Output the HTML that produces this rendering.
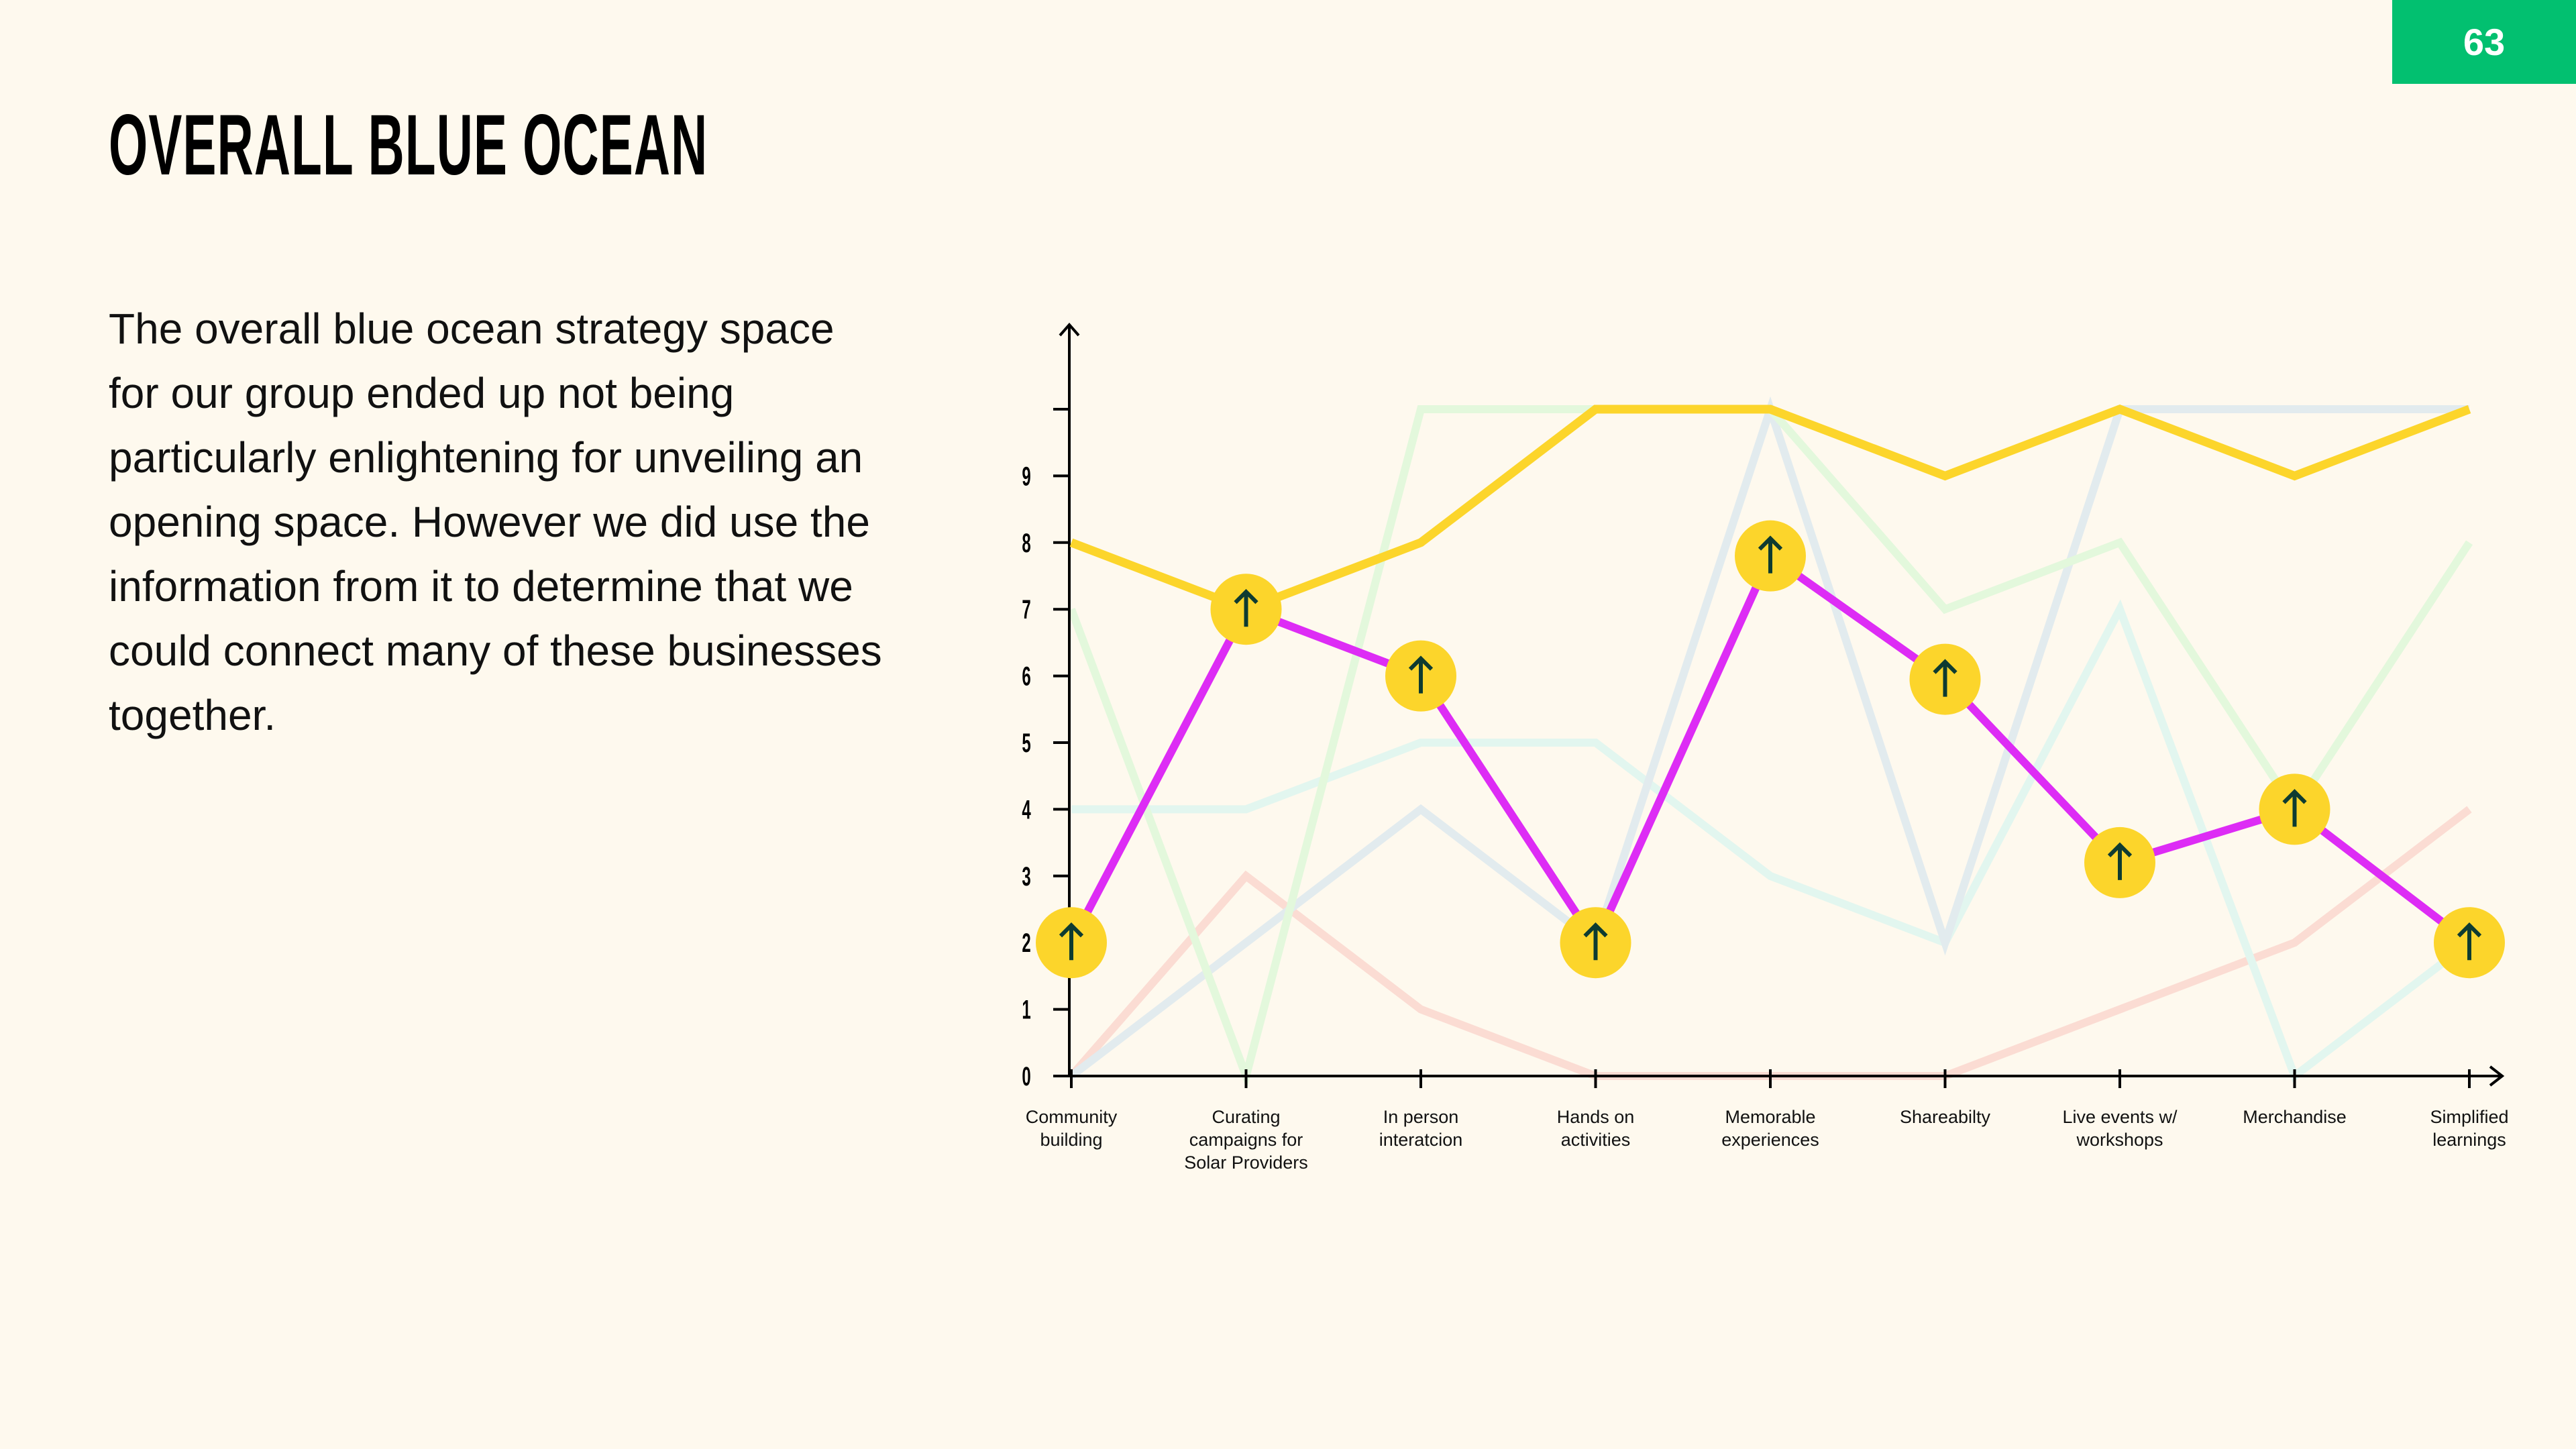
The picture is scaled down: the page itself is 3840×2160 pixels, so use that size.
<!DOCTYPE html>
<html><head><meta charset="utf-8"><style>
html,body{margin:0;padding:0;background:#fef9ee;}
#root{position:relative;width:3840px;height:2160px;overflow:hidden;background:#fef9ee;font-family:"Liberation Sans",sans-serif;}
.badge{position:absolute;left:3566px;top:0;width:274px;height:125px;background:#02c070;color:#fff;font-weight:bold;font-size:56px;display:flex;align-items:center;justify-content:center;}
.title{position:absolute;left:162px;top:143px;font-size:128px;font-weight:bold;color:#000;transform:scaleX(0.585);transform-origin:left top;white-space:nowrap;letter-spacing:2px;}
.para{position:absolute;left:162px;top:442px;font-size:64px;line-height:96px;color:#111;white-space:pre;}
svg{position:absolute;left:0;top:0;}
</style></head><body>
<div id="root">
<div class="badge">63</div>
<div class="title">OVERALL BLUE OCEAN</div>
<div class="para">The overall blue ocean strategy space
for our group ended up not being
particularly enlightening for unveiling an
opening space. However we did use the
information from it to determine that we
could connect many of these businesses
together.</div>
<svg id="chart" width="3840" height="2160"></svg>
</div>
<script>
const categories = ["Community\nbuilding","Curating\ncampaigns for\nSolar Providers","In person\ninteratcion","Hands on\nactivities","Memorable\nexperiences","Shareabilty","Live events w/\nworkshops","Merchandise","Simplified\nlearnings"];
const yTicks = [0,1,2,3,4,5,6,7,8,9];
const seriesGreen = [7,0,10,10,10,7,8,4,8];
const seriesGray = [0,2,4,2,10,2,10,10,10];
const seriesCyan = [4,4,5,5,3,2,7,0,2];
const seriesPink = [0,3,1,0,0,0,1,2,4];
const seriesYellow = [8,7,8,10,10,9,10,9,10];
const seriesMagenta = [2,7,6,2,7.8,5.95,3.2,4,2];

const NS="http://www.w3.org/2000/svg";
const svg=document.getElementById('chart');
const X0=1597,X1=3681,Y0=1604,YSTEP=99.4;
function x(i){return X0+(X1-X0)*i/(categories.length-1);}
function y(v){return Y0-v*YSTEP;}
function mk(tag,attrs){const e=document.createElementNS(NS,tag);for(const k in attrs)e.setAttribute(k,attrs[k]);svg.appendChild(e);return e;}

function line(data,color,w,name){
  const pts=data.map((v,i)=>x(i)+','+y(v)).join(' ');
  const p=mk('polyline',{points:pts,fill:'none',stroke:color,'stroke-width':w,'stroke-linejoin':'miter'});
  
  
}
line(seriesPink,'#fbdcd3',12,'series-pink-line');
line(seriesCyan,'#e2f6ef',12,'series-cyan-line');
line(seriesGray,'#e2ebee',12,'series-gray-line');
line(seriesGreen,'#e3f8dc',12,'series-green-line');

const ya=mk('line',{x1:1594,y1:Y0,x2:1594,y2:486,stroke:'#000','stroke-width':4});


mk('polyline',{points:'1580,500 1594,484 1608,500',fill:'none',stroke:'#000','stroke-width':4});
const xa=mk('line',{x1:1570,y1:Y0,x2:3728,y2:Y0,stroke:'#000','stroke-width':4});


mk('polyline',{points:'3712,1590 3730,1604 3712,1618',fill:'none',stroke:'#000','stroke-width':4});
[...yTicks,10].forEach(v=>{
  mk('line',{x1:1570,y1:y(v),x2:1594,y2:y(v),stroke:'#000','stroke-width':4});
});
yTicks.forEach(v=>{
  const t=mk('text',{x:1530,y:y(v)+14,'font-size':40,'font-weight':'bold','text-anchor':'middle','font-family':'Liberation Sans, sans-serif',transform:'translate(1530 0) scale(0.6 1) translate(-1530 0)'});
  t.textContent=v;
  
  
});
categories.forEach((c,i)=>{
  mk('line',{x1:x(i),y1:Y0-10,x2:x(i),y2:1622,stroke:'#000','stroke-width':4});
  const t=mk('text',{x:x(i),y:1674,'font-size':27,'text-anchor':'middle','font-family':'Liberation Sans, sans-serif',fill:'#111'});
  c.split('\n').forEach((s,k)=>{const ts=document.createElementNS(NS,'tspan');ts.setAttribute('x',x(i));ts.setAttribute('dy',k?34:0);ts.textContent=s;t.appendChild(ts);});
  
  
});

line(seriesYellow,'#fcd52b',13,'series-yellow-line');
line(seriesMagenta,'#dd2cf5',12,'series-magenta-line');
seriesMagenta.forEach((v,i)=>{
  const g=document.createElementNS(NS,'g');svg.appendChild(g);
  
  
  const cx=x(i),cy=y(v);
  const c=document.createElementNS(NS,'circle');c.setAttribute('cx',cx);c.setAttribute('cy',cy);c.setAttribute('r',53);c.setAttribute('fill','#fcd52b');g.appendChild(c);
  const a=document.createElementNS(NS,'path');
  a.setAttribute('d',`M${cx} ${cy+26} L${cx} ${cy-26} M${cx-16} ${cy-10} L${cx} ${cy-26} L${cx+16} ${cy-10}`);
  a.setAttribute('stroke','#0e3b31');a.setAttribute('stroke-width',6);a.setAttribute('fill','none');g.appendChild(a);
});
</script>
</body></html>
